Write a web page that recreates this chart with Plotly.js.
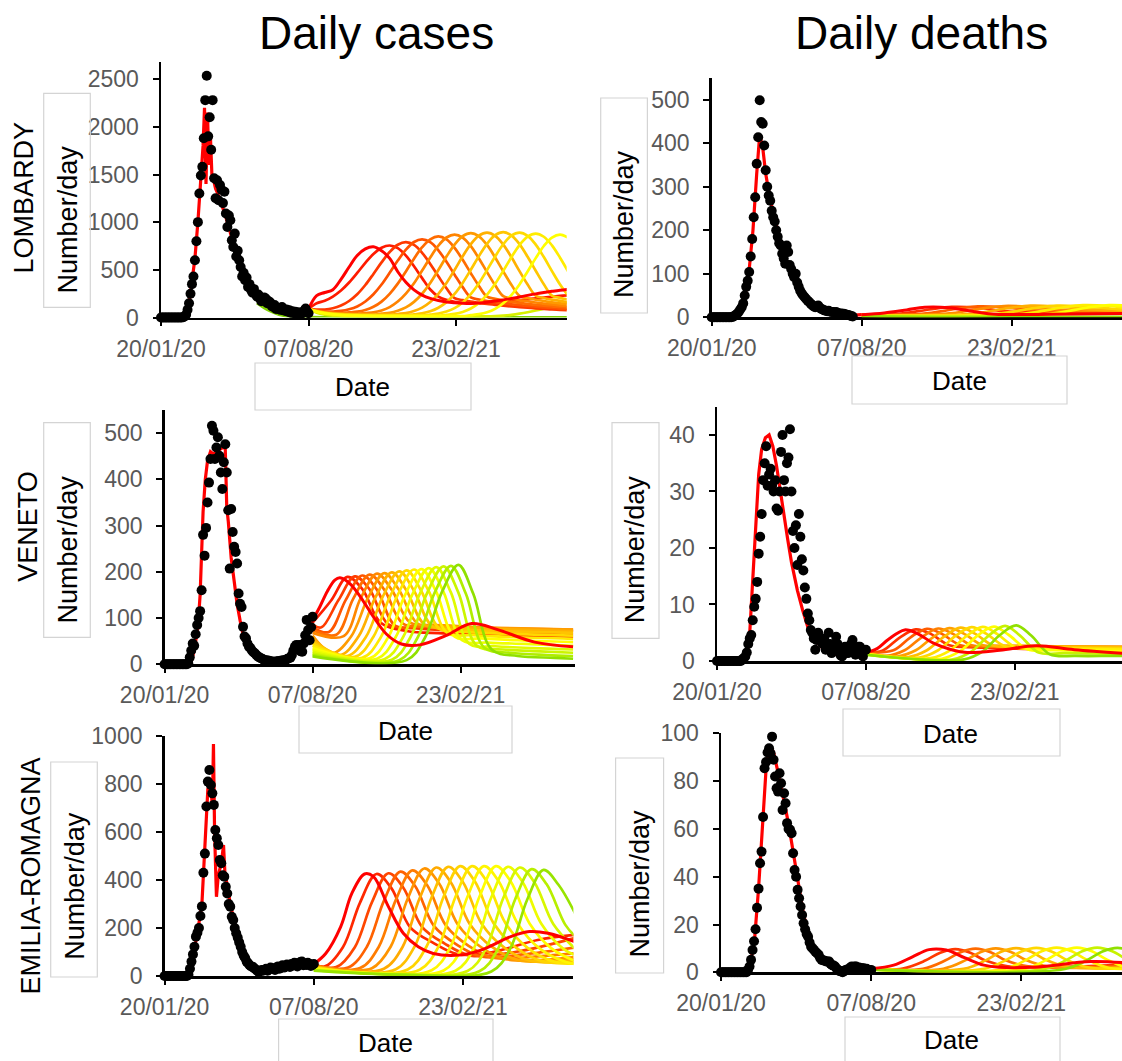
<!DOCTYPE html>
<html><head><meta charset="utf-8">
<script src="https://cdn.plot.ly/plotly-3.0.1.min.js"></script>
<style>html,body{margin:0;padding:0;background:#fff}#chart{width:1122px;height:1061px}</style>
</head><body><div id="chart"></div>
<script>
// ---------------- DATA ----------------
const X_TICK_DAYS = [0, 200, 400];
const X_TICK_LABELS = ['20/01/20', '07/08/20', '23/02/21'];
const OBS_STEP = 2; // observed points: one every 2 days from 20/01/20

// Lombardy – daily cases
const lomCasesObs = [0,0,0,0,0,0,0,0,0,0,0,0,0,0,0,3,
 10,30,80,150,250,350,430,600,800,1000,
 1300,1490,1580,1880,2280,2535,1900,2100,1760,2280,
 1460,1250,1440,1230,1390,1340,1200,1320,1090,950,
 1070,1020,810,740,880,640,700,600,530,430,
 470,390,420,320,350,290,260,300,250,220,
 240,200,170,180,210,200,150,170,160,120,
 110,130,90,100,95,80,110,75,70,85,
 60,75,50,65,45,60,40,55,35,50,
 45,70,95,60,45];
const lomCasesFitDays = [0,30,34,38,42,46,50,54,57,59,61,63,65,67,69,71,74,78,82,86,90,95,100,110,120,130,140,150,160,170,180,190,200];
const lomCasesFit = [0,0,40,150,380,620,1000,1450,1800,2200,1400,2150,1600,1900,1500,1450,1350,1280,1200,1100,1000,850,720,500,340,240,180,135,100,75,55,45,90];
const lomCasesProjDays = [200,211,222,233,244,255,266,277,288,299,310,321,332,343,354,365,376,387,398,409,420,431,442,453,464,475,486,497,508,519,530,541,552];
const lomCasesProj = [
 [90,230,262,292,400,530,650,720,742,700,620,480,370,290,235,200,178,163,155,150,148,152,160,172,185,200,215,232,248,262,275,287,296],
 [90,149,176,220,283,367,467,573,666,731,755,727,649,538,413,294,220,185,165,155,150,150,152,157,163,171,180,190,200,209,218,226,233],
 [90,84,84,97,125,173,244,341,457,578,687,763,790,761,679,562,432,307,203,182,166,154,142,133,124,116,109,103,96,91,85,81,76],
 [90,72,62,63,69,86,116,168,244,346,469,597,711,792,820,790,705,584,449,319,211,189,172,160,148,138,129,121,113,107,100,94,89],
 [90,70,58,51,47,53,61,79,112,167,248,355,483,617,737,820,850,819,731,605,465,331,218,196,179,166,153,143,133,125,117,111,104],
 [90,69,55,47,42,39,38,47,54,74,109,167,250,359,492,629,753,839,870,838,748,619,476,338,224,200,183,170,157,146,137,128,120],
 [90,67,52,43,38,35,33,32,30,40,49,71,106,164,249,362,498,639,765,853,885,852,761,630,484,344,227,204,186,173,159,149,139],
 [90,65,50,41,36,32,30,29,27,27,27,37,46,68,104,163,249,362,499,642,769,858,890,857,765,634,487,346,229,205,187,174,160],
 [90,64,48,39,33,29,27,26,24,24,24,24,24,34,44,65,102,161,248,363,501,644,773,863,895,862,770,637,490,348,230,206,188],
 [90,63,47,36,30,27,24,23,21,21,21,21,21,21,21,31,41,62,98,158,245,359,497,640,768,858,890,857,765,634,487,346,229],
 [90,62,45,34,28,24,22,20,18,18,18,18,18,18,18,18,18,28,38,58,94,153,239,353,489,632,760,848,880,847,757,627,481],
 [90,61,43,32,25,21,19,17,15,15,15,15,15,15,15,15,15,15,15,15,25,35,55,91,150,235,347,483,623,750,839,870,838]
];
const lomCasesLate = [90,50,30,20,15,12,12,12,12,12,12,12,12,12,12,12,12,12,12,12,12,12,12,15,20,28,40,55,73,93,115,138,162];
const lomCasesGreenDays = [130,140,150,160,170,180,190,200,230,300,400,552];
const lomCasesGreen = [150,100,60,30,15,8,5,3,2,2,2,2];

// Lombardy – daily deaths
const lomDeathsObs = [0,0,0,0,0,0,0,0,0,0,0,0,0,0,
 1,3,5,8,12,18,23,32,50,70,
 84,104,140,180,230,276,353,414,499,449,
 445,395,338,300,280,268,245,230,220,200,
 185,170,165,146,135,123,165,150,120,111,
 100,92,100,80,70,61,55,50,46,42,
 38,35,31,28,25,23,25,27,22,19,
 18,16,15,14,15,13,12,12,11,12,
 10,9,9,8,8,7,6,5,4,3,
 2];
const lomDeathsFitDays = [0,30,40,45,50,55,60,64,68,72,78,85,92,100,110,120,130,140,150,160,170,180,190,200];
const lomDeathsFit = [0,2,20,55,110,200,330,420,390,330,270,220,170,130,95,60,38,26,18,13,10,7,5,6];
const lomDeathsProjDays = [
 [200,230,260,284,316,350,378,450,552],
 [200,250,290,320,355,390,450,552],
 [200,280,325,355,390,430,552],
 [200,310,360,390,425,470,552],
 [200,345,395,425,460,505,552],
 [200,380,430,460,495,540,552],
 [200,415,465,495,530,552],
 [200,450,500,530,552],
 [200,300,400,500,552]
];
const lomDeathsProj = [
 [6,10,17,23,22,13,7,7,9],
 [6,8,18,24,22,14,10,10],
 [6,8,19,25,23,16,12],
 [5,8,20,26,24,17,13],
 [5,8,21,27,25,18,15],
 [4,8,21,27,25,19,18],
 [4,8,22,28,26,22],
 [3,8,22,28,27],
 [2,1,1,1,1]
];

// Veneto – daily cases
const venCasesObs = [0,0,0,0,0,0,0,0,0,0,0,0,0,0,0,0,
 2,15,30,45,40,65,85,100,115,160,
 280,235,295,350,393,444,516,505,444,469,
 491,451,415,379,437,476,415,333,207,336,
 286,254,243,218,153,131,124,81,60,56,
 45,38,35,30,26,24,20,17,15,13,
 12,10,9,8,8,7,6,6,5,6,
 6,7,6,8,8,9,10,12,13,14,
 20,30,38,42,35,42,28,27,45,63,
 96,74,52,80,103];
const venCasesFitDays = [0,35,40,45,48,50,52,55,58,62,66,70,75,80,82,83,84,86,88,90,94,98,102,106,110,120,130,140,150,160,170,180,190,200];
const venCasesFit = [0,0,30,80,150,230,330,400,440,460,455,460,465,470,465,400,340,310,270,230,180,130,95,65,45,22,12,8,8,10,18,35,60,95];
const venCasesProjDays = [
 [200,210,220,230,237,250,265,280,300,320,345,380,415,450,500,552],
 [200,225,247,267,292,327,377,552],
 [200,212,235,257,277,302,337,387,552],
 [200,222,245,267,287,312,347,397,552],
 [200,232,255,277,297,322,357,407,552],
 [200,242,265,287,307,332,367,417,552],
 [200,227,252,275,297,317,342,377,427,552],
 [200,237,262,285,307,327,352,387,437,552],
 [200,247,272,295,317,337,362,397,447,552],
 [200,257,282,305,327,347,372,407,457,552],
 [200,267,292,315,337,357,382,417,467,552],
 [200,277,302,325,347,367,392,427,477,552],
 [200,287,312,335,357,377,402,437,487,552],
 [200,297,322,345,367,387,412,447,497,552],
 [200,307,332,355,377,397,422,457,507,552],
 [200,317,342,365,387,407,432,467,517,552],
 [200,327,352,375,397,417,442,477,527,552]
];
const venCasesProj = [
 [95,125,158,182,187,175,145,108,65,44,42,62,88,75,48,38],
 [90,138,189,163,90,72,67,60],
 [86,80,139,190,162,87,78,73,65],
 [80,70,140,192,161,83,82,78,70],
 [74,64,142,194,161,88,82,78,73],
 [68,61,143,196,161,90,85,80,75],
 [62,24,60,144,197,160,88,84,80,75],
 [56,20,60,145,199,159,85,81,77,72],
 [50,18,59,147,201,159,82,76,72,68],
 [45,16,59,148,203,158,76,70,66,62],
 [40,14,58,150,205,158,68,63,59,55],
 [35,13,58,150,206,157,60,56,52,48],
 [31,12,58,152,208,156,52,47,44,40],
 [27,11,58,153,210,155,44,39,35,32],
 [23,10,58,155,212,155,40,32,28,25],
 [20,9,58,155,213,153,36,25,20,18],
 [17,9,58,157,215,153,32,18,14,12]
];

// Veneto – daily deaths
const venDeathsObs = [0,0,0,0,0,0,0,0,0,0,0,0,0,0,0,0,0,
 0.3,0.5,0.8,1.5,3,4,4.6,7.2,9.6,11,
 14,19,22,26,32,35,38,31,33,34,
 31,30,32,27,26.6,30,37,40,32,30,
 35,36,41,30,23,20,24,17,26,22,
 18,16,13,11,8.4,7.2,5.5,5,4,2,
 3.7,5,4,3.7,3,4,2,3,5,3,
 1.4,2,3,4.3,3,2.2,1,0.8,2,2.5,
 1.5,1.4,2,3,3.7,2,1.1,1.5,2.5,2.5,
 1.5,0.8,1.9,2];
const venDeathsFitDays = [0,40,44,48,52,56,60,65,70,75,80,85,90,95,100,108,115,122,130,140,150,170,200];
const venDeathsFit = [0,0.5,5,15,25,33,37.5,39.5,40,38,34.5,30,25.5,21.5,17.5,12.5,9,6,4,2.5,1.5,0.8,1.5];
const venDeathsProjDays = [
 [200,215,230,252,270,290,315,336,380,429,480,552],
 [200,222,245,267,287,312,347,400,552],
 [200,237,260,282,302,327,362,420,552],
 [200,227,252,275,297,317,342,377,440,552],
 [200,242,267,290,312,332,357,392,455,552],
 [200,257,282,305,327,347,372,407,470,552],
 [200,272,297,320,342,362,387,422,485,552],
 [200,287,312,335,357,377,402,437,500,552],
 [200,302,327,350,372,392,417,452,510,552],
 [200,317,342,365,387,407,432,467,520,552],
 [200,332,357,380,402,422,447,482,530,552]
];
const venDeathsProj = [
 [1.5,2.2,3.8,5.5,4.8,3.2,2.0,1.5,1.9,2.7,2.0,1.3],
 [1.5,1.8,4.1,5.6,4.8,2.8,2.4,2.2,2.0],
 [1.5,1.9,4.2,5.7,4.8,2.8,2.6,2.4,2.3],
 [1.4,0.9,1.9,4.2,5.75,4.8,2.8,2.7,2.6,2.5],
 [1.4,0.8,1.9,4.2,5.8,4.8,2.8,2.7,2.6,2.5],
 [1.3,0.7,1.9,4.3,5.9,4.8,2.7,2.6,2.5,2.4],
 [1.3,0.6,1.9,4.4,6.0,4.8,2.6,2.4,2.3,2.2],
 [1.2,0.5,1.8,4.4,6.05,4.7,2.4,2.2,2.1,2.0],
 [1.2,0.4,1.8,4.5,6.1,4.6,2.1,1.9,1.8,1.7],
 [1.1,0.3,1.7,4.5,6.2,4.5,1.5,1.4,1.3,1.3],
 [1.1,0.3,1.7,4.6,6.3,4.5,1.2,0.9,0.9,0.9]
];

// Emilia-Romagna – daily cases
const emiCasesObs = [0,0,0,0,0,0,0,0,0,0,0,0,0,0,0,0,
 5,30,60,90,122,164,180,200,250,290,
 430,510,706,810,858,796,761,713,608,574,
 546,483,470,420,414,372,344,300,289,247,
 233,200,178,160,140,122,100,85,75,60,
 53,45,40,39,32,28,22,18,20,25,
 22,25,30,22,28,35,30,32,25,35,
 40,30,39,45,35,40,48,46,38,50,
 44,55,53,40,50,58,60,45,52,46,
 55,50,42,46,50];
const emiCasesFitDays = [0,32,38,44,50,54,58,62,64,65.5,67,69.5,72,76,79,81,84,88,92,96,100,105,110,120,130,140,160,180,200];
const emiCasesFit = [0,0,80,180,300,520,780,800,700,967,600,330,420,470,546,420,380,300,240,190,145,100,65,35,22,25,35,45,50];
const emiCasesProjDays = [
 [200,216,236,251,268,280,300,320,340,360,395,424,464,489,514,552],
 [200,214,239,262,284,304,329,359,394,440,500,552],
 [200,230,255,278,300,320,345,375,410,470,552],
 [200,246,271,294,316,336,361,391,426,480,552],
 [200,262,287,310,332,352,377,407,442,500,552],
 [200,240,278,303,326,348,368,393,423,458,552],
 [200,245,294,319,342,364,384,409,439,474,552],
 [200,250,310,335,358,380,400,425,455,490,552],
 [200,260,326,351,374,396,416,441,471,506,552],
 [200,270,342,367,390,412,432,457,487,522,552],
 [200,280,358,383,406,428,448,473,503,538,552],
 [200,290,374,399,422,444,464,489,519,552],
 [200,300,390,415,438,460,480,505,535,552],
 [200,310,406,431,454,476,496,521,552],
 [200,320,422,447,470,492,512,537,552],
 [200,330,438,463,486,508,528,552]
];
const emiCasesProj = [
 [50,94,205,344,425,414,289,178,122,94,87,108,164,185,178,140],
 [50,39,120,306,425,366,204,140,90,100,150,172],
 [48,37,120,308,428,368,205,136,85,100,160],
 [46,35,121,313,435,374,209,132,80,90,120],
 [44,33,121,317,440,378,211,127,75,82,95],
 [42,25,32,122,323,448,385,215,123,70,80],
 [40,20,30,121,325,452,389,217,121,66,70],
 [38,17,28,122,328,455,391,218,119,64,62],
 [36,15,27,122,330,458,394,220,118,62,55],
 [34,13,26,121,330,458,394,220,116,60,52],
 [32,11,24,120,330,458,394,220,114,58,50],
 [30,10,23,119,330,458,394,220,114,60],
 [28,9,22,118,328,455,391,218,112,85],
 [26,8,21,116,325,452,389,217,108],
 [24,6,20,113,320,445,383,214,160],
 [22,4,19,112,318,442,380,250]
];

// Emilia-Romagna – daily deaths
const emiDeathsObs = [0,0,0,0,0,0,0,0,0,0,0,0,0,0,0,0,0,0,
 1,2.4,5.2,9.3,13,18,27,35,45.6,50.5,
 65,85.4,88,92,93.7,91.6,98.6,88.9,81.9,77,
 75.6,83.3,79.1,67.9,74.9,70.7,62.4,60,59.6,58.2,
 49.8,42.8,40,34.5,31,27.5,24,20.5,18,16,
 14.9,12.5,10.7,10,9.3,8.5,8,7.3,6,5.2,
 5,4.8,4.5,4.5,4.5,3.5,3,2.8,2.4,1.5,
 1,0.5,0.3,0,0.5,1,1.2,1,2,2.4,
 1.5,2.4,2.4,1.5,2,1.7,1.7,1.7,1.2,1.5,
 1,1,1];
const emiDeathsFitDays = [0,34,40,45,50,55,60,65,70,75,80,85,90,95,100,110,120,130,140,150,160,180,200];
const emiDeathsFit = [0,0,5,15,35,60,85,95,92,85,78,70,62,52,42,24,12,7,4,2.5,1.5,1,1.5];
const emiDeathsProjDays = [
 [200,230,255,277,300,325,350,370,420,493,552],
 [200,242,272,292,312,332,352,382,552],
 [200,269,299,319,339,359,379,409,552],
 [200,296,326,346,366,386,406,436,552],
 [200,323,353,373,393,413,433,463,552],
 [200,350,380,400,420,440,460,490,552],
 [200,377,407,427,447,467,487,517,552],
 [200,404,434,454,474,494,514,544,552],
 [200,431,461,481,501,521,541,552],
 [200,458,488,508,528,548,552]
];
const emiDeathsProj = [
 [1.5,3,6.5,9.5,9.3,6,3,2.1,2.2,4.5,3.6],
 [1.5,1.6,4.9,8.2,9.7,8.2,4.9,2.5,3.5],
 [1.4,1.5,5.0,8.4,9.9,8.4,5.0,2.5,2.8],
 [1.4,1.5,5.1,8.5,10.0,8.5,5.1,2.4,2.4],
 [1.3,1.4,5.1,8.6,10.1,8.6,5.1,2.2,2.1],
 [1.3,1.4,5.2,8.7,10.2,8.7,5.2,2.0,1.8],
 [1.2,1.4,5.3,8.8,10.3,8.8,5.3,1.8,1.5],
 [1.2,1.4,5.3,8.8,10.3,8.8,5.3,1.6,1.5],
 [1.1,1.4,5.3,8.8,10.3,8.8,5.3,4.0],
 [1.1,1.4,5.2,8.7,10.2,8.8,8.3]
];

// ---------------- STYLE ----------------
const FONT = 'Liberation Sans, Arial, Helvetica, sans-serif';
const W = 1122, H = 1061;
const px = x => x / W;
const py = y => 1 - y / H;

const PAL_LOM_CASES = ['#ff0000','#ff1a00','#ff3800','#ff5400','#ff6c00','#ff8400','#ff9a00','#ffb000','#ffc600','#ffda00','#ffec00','#ffff00'];
const PAL_LOM_DEATHS = ['#ff0000','#ff3000','#ff6000','#ff8c00','#ffb000','#ffd400','#ffee00','#ffff00','#90e000'];
const PAL_VEN_CASES = ['#ff0000','#ff1e00','#ff3c00','#ff5500','#ff6e00','#ff8700','#ff9c00','#ffb000','#ffc400','#ffd800','#ffea00','#ffff00','#f0ff00','#e0fa00','#ccf500','#b0ee00','#90e000'];
const PAL_VEN_DEATHS = ['#ff0000','#ff3300','#ff5c00','#ff8000','#ffa000','#ffbe00','#ffd800','#ffee00','#ffff00','#c8f200','#90e000'];
const PAL_EMI_CASES = ['#ff0000','#ff2800','#ff4600','#ff6200','#ff7c00','#ff9400','#ffaa00','#ffc000','#ffd400','#ffe600','#fff600','#ffff00','#eefc00','#d8f700','#b8ef00','#98e400'];
const PAL_EMI_DEATHS = ['#ff0000','#ff3800','#ff6a00','#ff9400','#ffb800','#ffd800','#fff000','#ffff00','#c8f200','#90e000'];

const LINE_W = 2.7;
const traces = [];
function axName(n, letter) { return n === 1 ? letter : letter + n; }
function lineTrace(ax, xs, ys, color, width, shape) {
  traces.push({type:'scatter', mode:'lines', x:xs, y:ys, xaxis:axName(ax,'x'), yaxis:axName(ax,'y'),
    line:{color:color, width:width, shape:shape||'spline', smoothing:1}, hoverinfo:'skip', showlegend:false});
}
function buildPanel(ax, obs, fitX, fitY, projX, projY, colors, extras) {
  const shared = !Array.isArray(projX[0]);
  (extras||[]).forEach(e => lineTrace(ax, e.x, e.y, e.color, LINE_W));
  for (let j = 1; j < projY.length; j++) {
    lineTrace(ax, shared ? projX : projX[j], projY[j], colors[j], LINE_W);
  }
  lineTrace(ax, shared ? projX : projX[0], projY[0], colors[0], 3);
  lineTrace(ax, fitX, fitY, '#ff0000', 3.2, 'linear');
  traces.push({type:'scatter', mode:'markers', x:obs.map((_, i) => i * OBS_STEP), y:obs,
    xaxis:axName(ax,'x'), yaxis:axName(ax,'y'), marker:{color:'#000', size:10}, cliponaxis:false,
    hoverinfo:'skip', showlegend:false});
}

buildPanel(1, lomCasesObs, lomCasesFitDays, lomCasesFit, lomCasesProjDays, lomCasesProj, PAL_LOM_CASES,
  [{x:lomCasesGreenDays, y:lomCasesGreen, color:'#7fd000'}, {x:lomCasesProjDays, y:lomCasesLate, color:'#d8f000'}]);
buildPanel(2, lomDeathsObs, lomDeathsFitDays, lomDeathsFit, lomDeathsProjDays, lomDeathsProj, PAL_LOM_DEATHS);
buildPanel(3, venCasesObs, venCasesFitDays, venCasesFit, venCasesProjDays, venCasesProj, PAL_VEN_CASES);
buildPanel(4, venDeathsObs, venDeathsFitDays, venDeathsFit, venDeathsProjDays, venDeathsProj, PAL_VEN_DEATHS);
buildPanel(5, emiCasesObs, emiCasesFitDays, emiCasesFit, emiCasesProjDays, emiCasesProj, PAL_EMI_CASES);
buildPanel(6, emiDeathsObs, emiDeathsFitDays, emiDeathsFit, emiDeathsProjDays, emiDeathsProj, PAL_EMI_DEATHS);

// panel geometry (pixels)
const PANELS = [
  {xDom:[161,566.7], yDom:[317.5,62], xMax:550, yMax:2680, dtick:500},
  {xDom:[711.7,1122], yDom:[317.3,78], xMax:547, yMax:550, dtick:100},
  {xDom:[164.6,575.3], yDom:[664.3,410], xMax:555, yMax:550, dtick:100},
  {xDom:[717,1122], yDom:[661,406.7], xMax:544, yMax:45, dtick:10},
  {xDom:[164.6,573.4], yDom:[976,736], xMax:548, yMax:1000, dtick:200},
  {xDom:[721,1122], yDom:[972.3,733.3], xMax:534, yMax:100, dtick:20}
];
const common = {showline:true, linecolor:'#000', linewidth:2.5, ticks:'outside', ticklen:6, tickwidth:2,
  tickcolor:'#000', showgrid:false, zeroline:false, layer:'below traces', fixedrange:true,
  tickfont:{family:FONT, size:23, color:'#595959'}};

const layout = {width:W, height:H, margin:{l:0, r:0, t:0, b:0}, paper_bgcolor:'#fff', plot_bgcolor:'rgba(0,0,0,0)',
  showlegend:false, annotations:[], shapes:[]};
PANELS.forEach((P, i) => {
  const n = i + 1, s = n === 1 ? '' : String(n);
  layout['xaxis' + s] = Object.assign({}, common, {domain:[px(P.xDom[0]), px(P.xDom[1])], range:[0, P.xMax],
    anchor:'y' + s, tickmode:'array', tickvals:X_TICK_DAYS, ticktext:X_TICK_LABELS, ticklabelstandoff:3});
  layout['yaxis' + s] = Object.assign({}, common, {domain:[py(P.yDom[0]), py(P.yDom[1])], range:[0, P.yMax],
    anchor:'x' + s, tickmode:'linear', tick0:0, dtick:P.dtick, ticklabelstandoff:9});
});

function ann(text, x, y, size, angle) {
  layout.annotations.push({text:text, x:px(x), y:py(y), xref:'paper', yref:'paper', xanchor:'center', yanchor:'middle',
    showarrow:false, textangle:angle || 0, font:{family:FONT, size:size, color:'#000'}});
}
function box(x0, y0, x1, y1) {
  layout.shapes.push({type:'rect', xref:'paper', yref:'paper', x0:px(x0), x1:px(x1), y0:py(y1), y1:py(y0),
    line:{color:'#d4d4d4', width:1.2}, fillcolor:'rgba(0,0,0,0)', layer:'above'});
}

ann('Daily cases', 376, 33, 46);
ann('Daily deaths', 921.5, 33, 46);
ann('LOMBARDY', 24.4, 197, 27, -90);
ann('VENETO', 27.7, 526, 27, -90);
ann('EMILIA-ROMAGNA', 31.4, 876, 27, -90);

const NUM_BOXES = [[43.7,93.3,90.3,307.3,68.4,219],[600.7,98,647.4,313,624,224],[43.7,422.7,90.3,637.3,68.4,549],
  [612,422.7,659,638.3,635.3,549],[50.7,762,97.3,977,74.8,886],[615.6,758,663.6,973,639.5,884]];
NUM_BOXES.forEach(b => { box(b[0], b[1], b[2], b[3]); ann('Number/day', b[4], b[5], 27, -90); });
const DATE_BOXES = [[255,363,471,410,362.7,387],[852,356,1067,404,959,381],[299,706,512,753,405,731],
  [843,709,1060,756,950.6,734],[278.6,1019,493,1080,385.5,1043],[845,1017,1060,1080,951.6,1040]];
DATE_BOXES.forEach(b => { box(b[0], b[1], b[2], b[3]); ann('Date', b[4], b[5], 26); });

Plotly.newPlot('chart', traces, layout, {staticPlot:true, displayModeBar:false});
</script></body></html>
